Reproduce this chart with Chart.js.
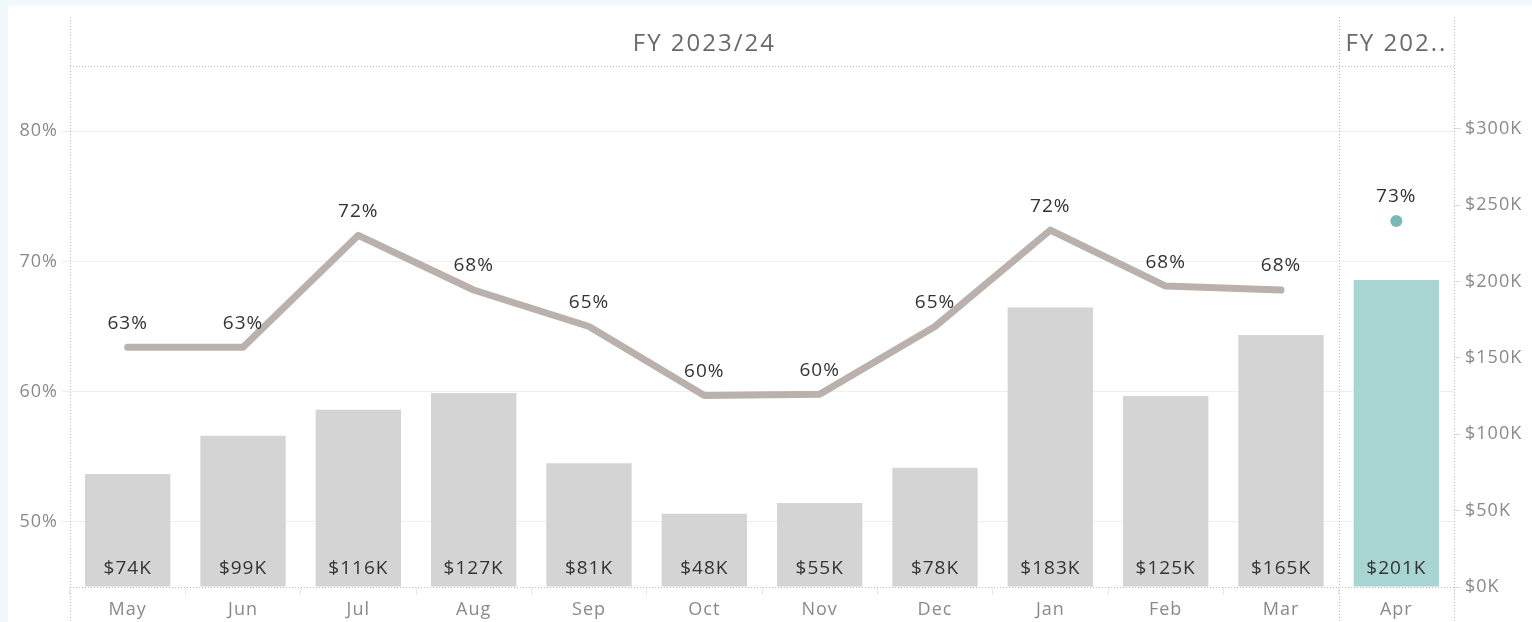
<!DOCTYPE html>
<html>
<head>
<meta charset="utf-8">
<script src="https://cdn.jsdelivr.net/npm/chart.js@4"></script>
<style>
  html, body { margin: 0; padding: 0; background: #f3f9fb; }
  canvas { display: block; }
</style>
</head>
<body>
<canvas id="chart" width="1532" height="622"></canvas>
<script>
// Monthly revenue (bars, right axis) and margin % (line, left axis)

var MONTHS = ['May', 'Jun', 'Jul', 'Aug', 'Sep', 'Oct', 'Nov', 'Dec', 'Jan', 'Feb', 'Mar', 'Apr'];
var REVENUE_K = [74, 99, 116, 127, 81, 48, 55, 78, 183, 125, 165, 201];
var MARGIN_PCT = [63.4, 63.4, 72.0, 67.8, 65.0, 59.7, 59.8, 65.0, 72.4, 68.1, 67.8, null];
var CURRENT_PCT = [null, null, null, null, null, null, null, null, null, null, null, 73.1];
var PCT_TICKS = [50, 60, 70, 80];
var REV_TICKS = [0, 50, 100, 150, 200, 250, 300];
var PERIODS = ['FY 2023/24', 'FY 202..'];

var FONT = "'Open Sans', sans-serif";
var BAR_GREY = '#d4d4d4';
var BAR_TEAL = '#a8d5d1';
var DOT_TEAL = '#79bab4';
var LINE_COLOR = '#bab1ad';

var barColors = MONTHS.map(function(_, i) { return i === MONTHS.length - 1 ? BAR_TEAL : BAR_GREY; });

var panelPlugin = {
  id: 'panel',
  beforeDraw: function(chart) {
    var ctx = chart.ctx;
    ctx.save();
    ctx.fillStyle = '#f3f9fb';
    ctx.fillRect(0, 0, chart.width, chart.height);
    ctx.fillStyle = '#ffffff';
    ctx.fillRect(8, 6, chart.width - 8, chart.height - 6);
    ctx.restore();
    // the reference font runs a bit wider than Open Sans
    ctx.letterSpacing = '1px';
  }
};

var framePlugin = {
  id: 'frame',
  afterDatasetsDraw: function(chart) {
    var ctx = chart.ctx;
    var area = chart.chartArea;
    var x = chart.scales.x;
    var split = (x.getPixelForValue(10) + x.getPixelForValue(11)) / 2;
    ctx.save();
    ctx.strokeStyle = '#bdbdbd';
    ctx.lineWidth = 1;
    ctx.setLineDash([1, 2]);
    ctx.beginPath();
    [area.left, split, area.right].forEach(function(px) {
      var cx = Math.round(px) + 0.5;
      ctx.moveTo(cx, 17);
      ctx.lineTo(cx, chart.height);
    });
    ctx.moveTo(area.left, Math.round(area.top) + 0.5);
    ctx.lineTo(area.right, Math.round(area.top) + 0.5);
    ctx.moveTo(area.left, Math.round(area.bottom) + 0.5);
    ctx.lineTo(area.right, Math.round(area.bottom) + 0.5);
    ctx.stroke();

    // period headers
    ctx.setLineDash([]);
    ctx.fillStyle = '#6b6b6b';
    ctx.font = '24px ' + FONT;
    ctx.letterSpacing = '2px';
    ctx.textAlign = 'center';
    ctx.textBaseline = 'middle';
    ctx.fillText(PERIODS[0], (area.left + split) / 2, 44);
    ctx.fillText(PERIODS[1], (split + area.right) / 2, 44);

    // bar labels
    ctx.letterSpacing = '1px';
    ctx.fillStyle = '#333333';
    ctx.font = '19px ' + FONT;
    var bars = chart.getDatasetMeta(0);
    bars.data.forEach(function(bar, i) {
      ctx.fillText('$' + REVENUE_K[i] + 'K', bar.x, area.bottom - 18);
    });

    // line labels
    [1, 2].forEach(function(di) {
      var meta = chart.getDatasetMeta(di);
      var vals = chart.data.datasets[di].data;
      meta.data.forEach(function(pt, i) {
        if (vals[i] == null) return;
        ctx.fillText(Math.round(vals[i]) + '%', pt.x, pt.y - 24);
      });
    });
    ctx.restore();
  }
};

new Chart(document.getElementById('chart'), {
  type: 'bar',
  data: {
    labels: MONTHS,
    datasets: [{
      type: 'bar',
      data: REVENUE_K,
      yAxisID: 'y1',
      backgroundColor: barColors,
      borderWidth: 0,
      barPercentage: 0.74,
      categoryPercentage: 1,
      order: 3
    }, {
      type: 'line',
      data: MARGIN_PCT,
      yAxisID: 'y',
      borderColor: LINE_COLOR,
      borderWidth: 7,
      borderCapStyle: 'round',
      borderJoinStyle: 'round',
      pointRadius: 0,
      spanGaps: false,
      order: 1
    }, {
      type: 'line',
      data: CURRENT_PCT,
      yAxisID: 'y',
      showLine: false,
      pointRadius: 6,
      pointBackgroundColor: DOT_TEAL,
      pointBorderWidth: 0,
      order: 0
    }]
  },
  options: {
    responsive: false,
    animation: false,
    devicePixelRatio: 1,
    layout: { padding: { top: 66, left: 0, right: 0, bottom: 0 } },
    plugins: { legend: { display: false }, tooltip: { enabled: false } },
    scales: {
      x: {
        offset: true,
        border: { display: false },
        grid: { offset: true, drawOnChartArea: false, drawTicks: true, tickLength: 8, tickColor: '#e8e8e8' },
        ticks: { color: '#8a8a8a', font: { family: FONT, size: 18 }, padding: 4, maxRotation: 0 },
        afterFit: function(s) { s.height = 35; }
      },
      y: {
        position: 'left',
        min: 45,
        max: 85,
        border: { display: false },
        grid: { color: '#efefef', tickLength: 8, tickColor: '#efefef' },
        ticks: { color: '#8a8a8a', font: { family: FONT, size: 18 }, padding: 4,
          callback: function(v) { return v + '%'; } },
        afterBuildTicks: function(s) { s.ticks = PCT_TICKS.map(function(v) { return { value: v }; }); },
        afterFit: function(s) { s.width = 70; }
      },
      y1: {
        position: 'right',
        min: 0,
        max: 341,
        border: { display: false },
        grid: { drawOnChartArea: false, tickLength: 7, tickColor: '#dddddd' },
        ticks: { color: '#8a8a8a', font: { family: FONT, size: 18 }, padding: 4,
          callback: function(v) { return '$' + v + 'K'; } },
        afterBuildTicks: function(s) { s.ticks = REV_TICKS.map(function(v) { return { value: v }; }); },
        afterFit: function(s) { s.width = 78; }
      }
    }
  },
  plugins: [panelPlugin, framePlugin]
});
</script>
</body>
</html>
